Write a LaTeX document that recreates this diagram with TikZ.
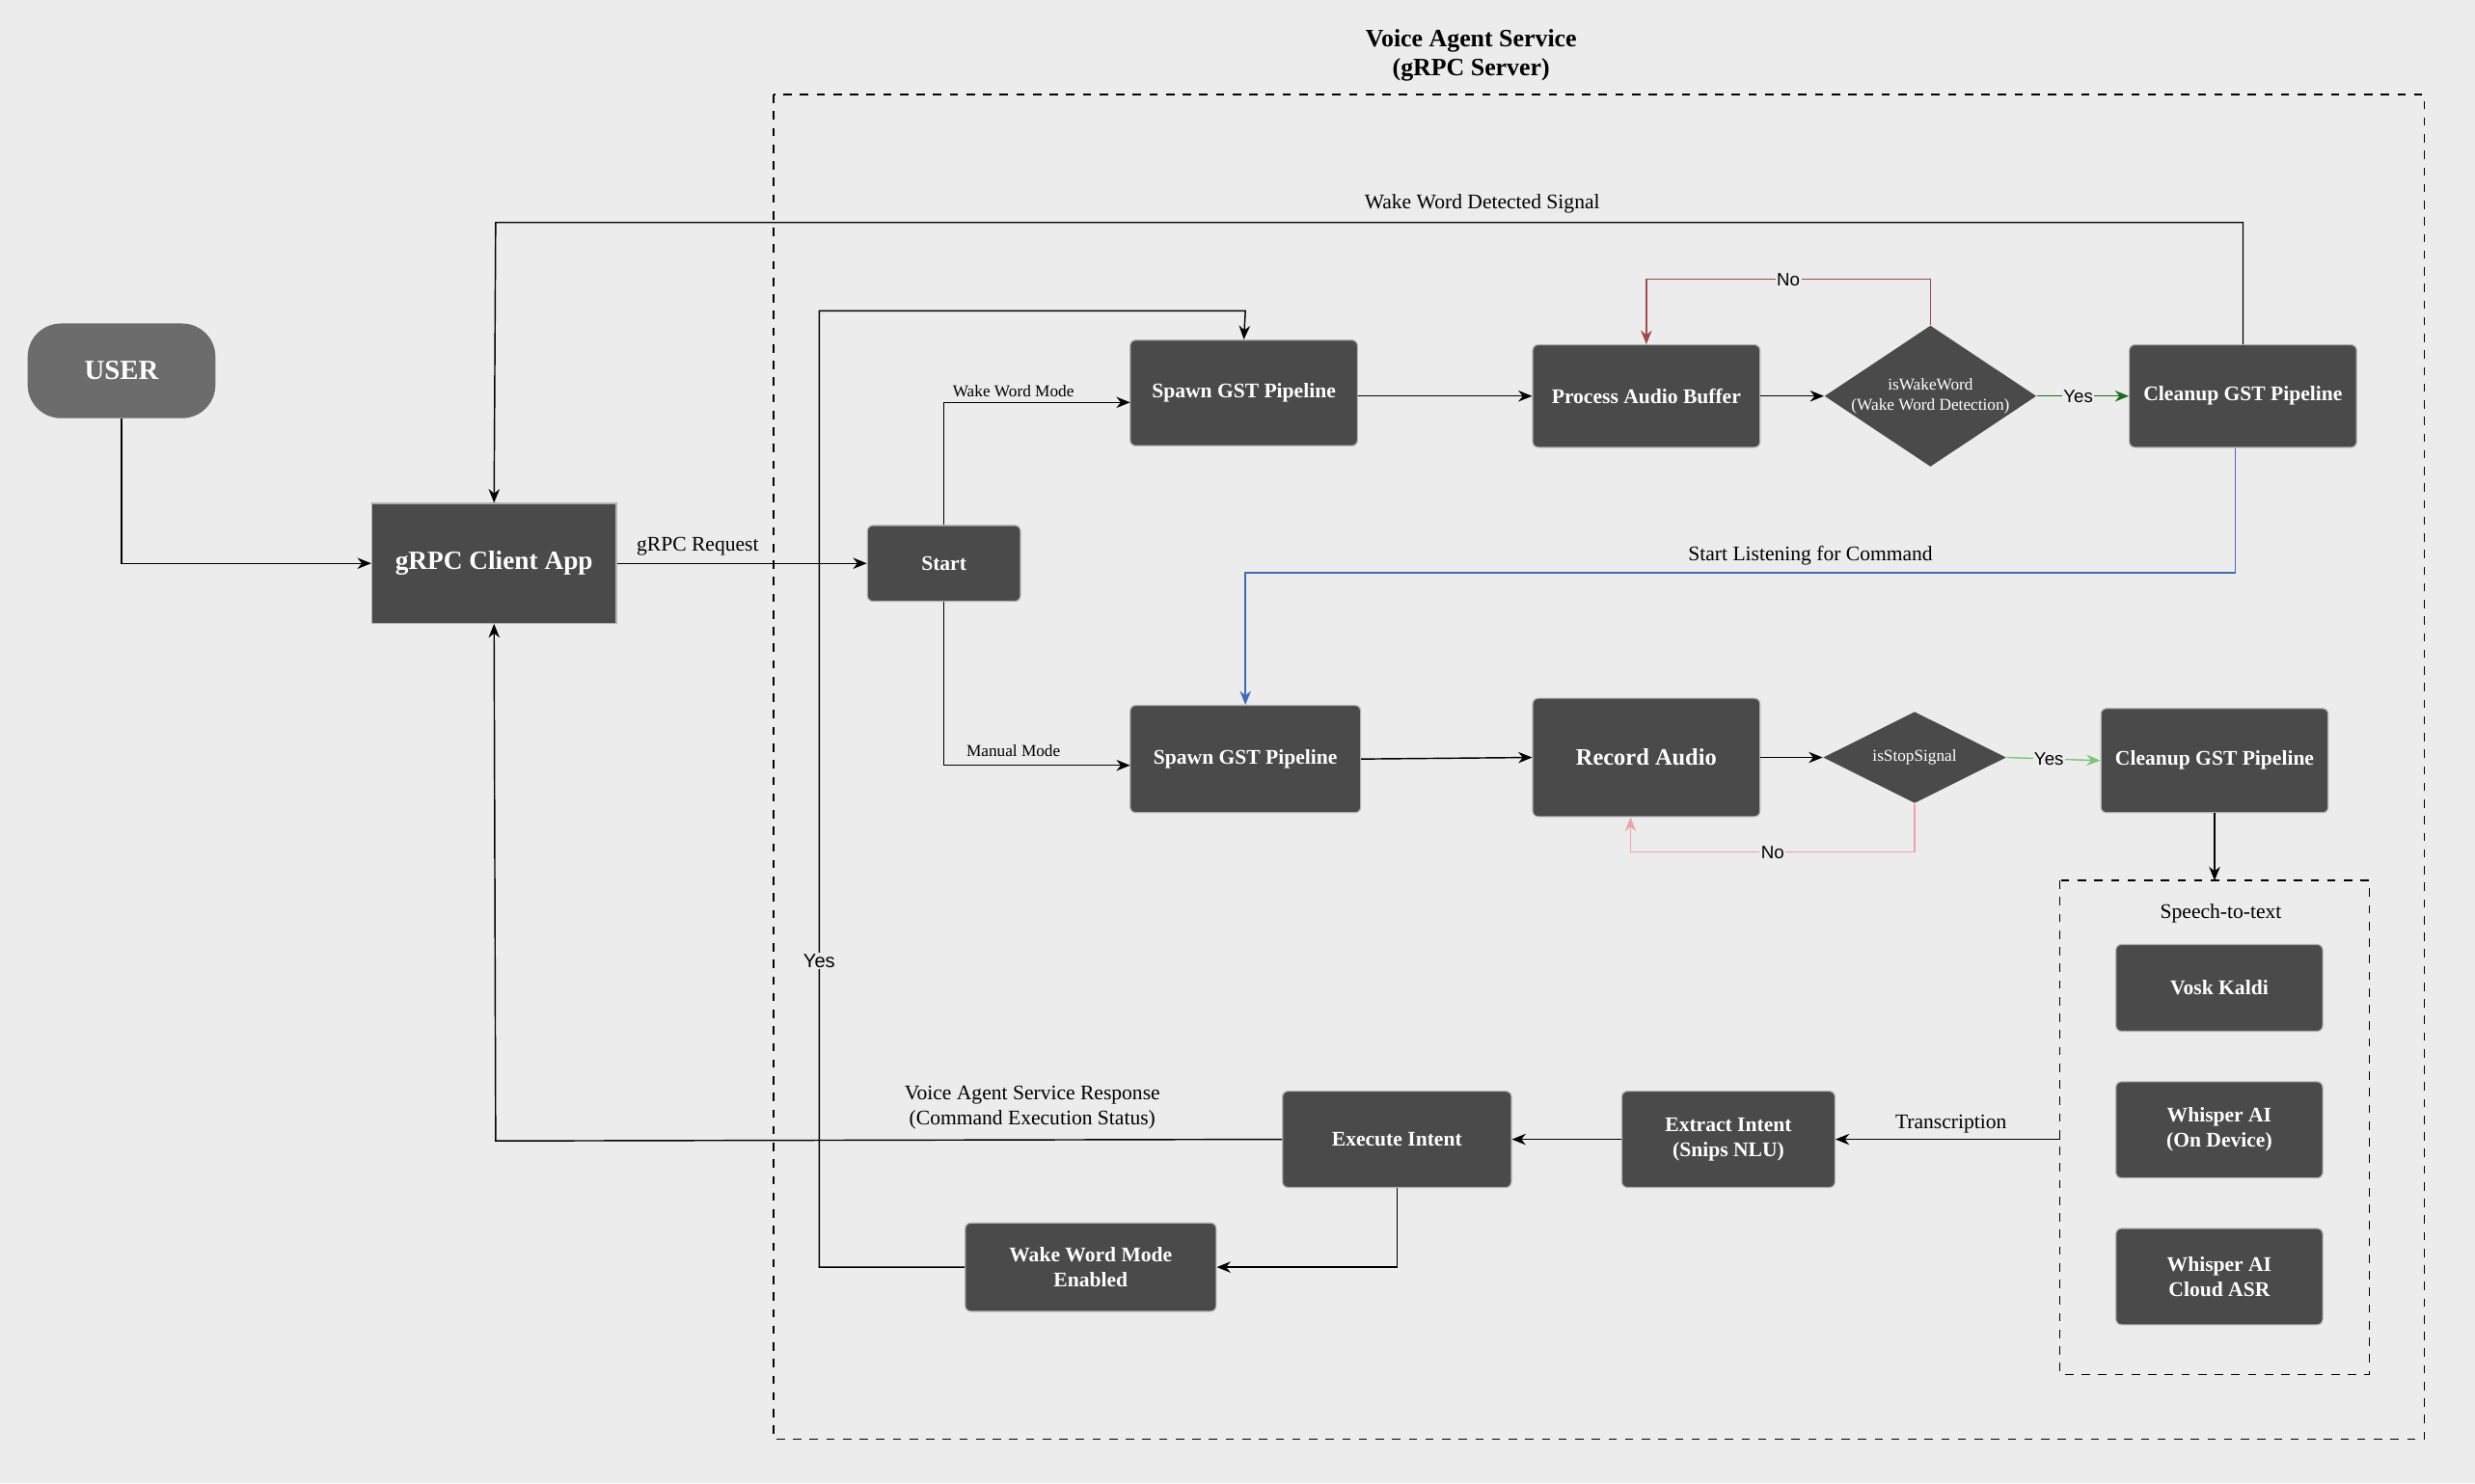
\documentclass[tikz,border=0pt]{standalone}
\usepackage{fontspec}
\setmainfont{Liberation Serif}
\newfontfamily\sansf{Liberation Sans}
\usetikzlibrary{shapes.geometric,arrows.meta}
\definecolor{bg}{HTML}{ECECEC}
\definecolor{boxg}{HTML}{4A4A4A}
\definecolor{darkred}{HTML}{9E4A4A}
\definecolor{darkgreen}{HTML}{1E6B1E}
\definecolor{lgreen}{HTML}{82C47E}
\definecolor{pinkl}{HTML}{EEA3A3}
\definecolor{bluel}{HTML}{3F6DB5}
\tikzset{
  box/.style={fill=boxg,draw=gray!60,line width=0.4pt,text=white,font=\fontsize{7.5}{9}\selectfont\bfseries,align=center,rounded corners=2pt,inner sep=0pt},
  dia/.style={diamond,fill=boxg,text=white,font=\fontsize{6}{7.5}\selectfont,align=center,inner sep=0pt},
  conn/.style={-{Stealth[length=5pt,width=4pt]},line width=0.5pt},
  lbl/.style={font=\fontsize{7.5}{9}\selectfont,align=center},
  slbl/.style={font=\fontsize{6}{7}\selectfont},
  yn/.style={font=\sansf\fontsize{6.5}{7}\selectfont,fill=bg,inner sep=0.5pt},
}
\begin{document}
\begin{tikzpicture}[x=0.02cm,y=-0.02cm]
\fill[bg] (0,0) rectangle (1568,940);
\useasboundingbox (0,0) rectangle (1568,940);
\draw[dashed,line width=0.5pt] (490,60) rectangle (1536,912);
\node[lbl,font=\fontsize{9}{10.5}\selectfont\bfseries] (title) at (932,35) {Voice Agent Service\\(gRPC Server)};

\node[box,fill=gray!85!black,draw=none,rounded corners=12pt,minimum width=2.38cm,minimum height=1.2cm,font=\fontsize{10}{12}\selectfont\bfseries] (user) at (77,235) {USER};
\node[box,rounded corners=0pt,minimum width=3.1cm,minimum height=1.52cm,font=\fontsize{9.5}{11}\selectfont\bfseries] (client) at (313,357) {gRPC Client App};
\node[box,minimum width=1.94cm,minimum height=0.96cm] (start) at (598,357) {Start};
\node[box,minimum width=2.88cm,minimum height=1.34cm] (spawn1) at (788,249) {Spawn GST Pipeline};
\node[box,minimum width=2.88cm,minimum height=1.3cm] (pab) at (1043,251) {Process Audio Buffer};
\node[dia,shape aspect=1.5,minimum width=2.68cm] (isw) at (1223,251) {isWakeWord\\(Wake Word Detection)};
\node[box,minimum width=2.88cm,minimum height=1.3cm] (clean1) at (1421,251) {Cleanup GST Pipeline};
\node[box,minimum width=2.92cm,minimum height=1.36cm] (spawn2) at (789,481) {Spawn GST Pipeline};
\node[box,minimum width=2.88cm,minimum height=1.5cm,font=\fontsize{8.5}{10}\selectfont\bfseries] (rec) at (1043,480) {Record Audio};
\node[dia,shape aspect=2,minimum width=2.32cm,minimum height=1.16cm] (iss) at (1213,480) {isStopSignal};
\node[box,minimum width=2.88cm,minimum height=1.32cm] (clean2) at (1403,482) {Cleanup GST Pipeline};
\draw[dashed,line width=0.5pt] (1305,558) rectangle (1501,871);
\coordinate (sttop) at (1403,558);
\coordinate (stleft) at (1305,722);
\node[lbl] (stt) at (1407,579) {Speech-to-text};
\node[box,minimum width=2.62cm,minimum height=1.1cm] (vosk) at (1406,626) {Vosk Kaldi};
\node[box,minimum width=2.62cm,minimum height=1.22cm] (wod) at (1406,716) {Whisper AI\\(On Device)};
\node[box,minimum width=2.62cm,minimum height=1.22cm] (wca) at (1406,809) {Whisper AI\\Cloud ASR};
\node[box,minimum width=2.7cm,minimum height=1.22cm] (extract) at (1095,722) {Extract Intent\\(Snips NLU)};
\node[box,minimum width=2.9cm,minimum height=1.22cm] (exec) at (885,722) {Execute Intent};
\node[box,minimum width=3.18cm,minimum height=1.12cm] (wwme) at (691,803) {Wake Word Mode\\Enabled};

% labels
\node[lbl] (lreq) at (442,346) {gRPC Request};
\node[slbl] (lwwm) at (642,248) {Wake Word Mode};
\node[slbl] (lman) at (642,476) {Manual Mode};
\node[lbl] (lwwd) at (939,129) {Wake Word Detected Signal};
\node[lbl] (lslc) at (1147,352) {Start Listening for Command};
\node[lbl] (ltr) at (1236,712) {Transcription};
\node[lbl] (lresp) at (654,702) {Voice Agent Service Response\\(Command Execution Status)};

% connectors
\draw[conn] (user.south) -- (77,357) -- (client.west);
\draw[conn] (client.east) -- (start.west);
\draw[conn] (start.north) |- (716,255);
\draw[conn] (start.south) |- (716,485);
\draw[conn] (spawn1.east |- pab) -- (pab.west);
\draw[conn] (pab.east) -- (isw.west);
\draw[conn,darkgreen] (isw.east) -- node[yn,text=black,pos=0.45] {Yes} (clean1.west);
\draw[conn,darkred] (isw.north) -- (1223,177) -- node[yn,text=black] {No} (1043,177) -- (pab.north);
\draw[conn] (clean1.north) -- (1421,141) -- (314,141) -- (client.north);
\draw[conn,bluel] (1416,284) -- (1416,363) -- (789,363) -- (spawn2.north);
\draw[conn] (spawn2.east) -- (rec.west);
\draw[conn] (rec.east) -- (iss.west);
\draw[conn,lgreen] (iss.east) -- node[yn,text=black,pos=0.45] {Yes} (clean2.west);
\draw[conn,pinkl] (iss.south) -- (1213,540) -- node[yn,text=black] {No} (1033,540) -- (1033,518);
\draw[conn] (clean2.south) -- (sttop);
\draw[conn] (stleft) -- (extract.east);
\draw[conn] (extract.west) -- (exec.east);
\draw[conn] (exec.west) -- (314,723) -- (client.south);
\draw[conn] (exec.south) |- (wwme.east);
\draw[conn] (wwme.west) -- (519,803) -- node[yn,font=\sansf\fontsize{7}{8}\selectfont,pos=0.32] {Yes} (519,197) -- (789,197) -- (spawn1.north);
\end{tikzpicture}
\end{document}
